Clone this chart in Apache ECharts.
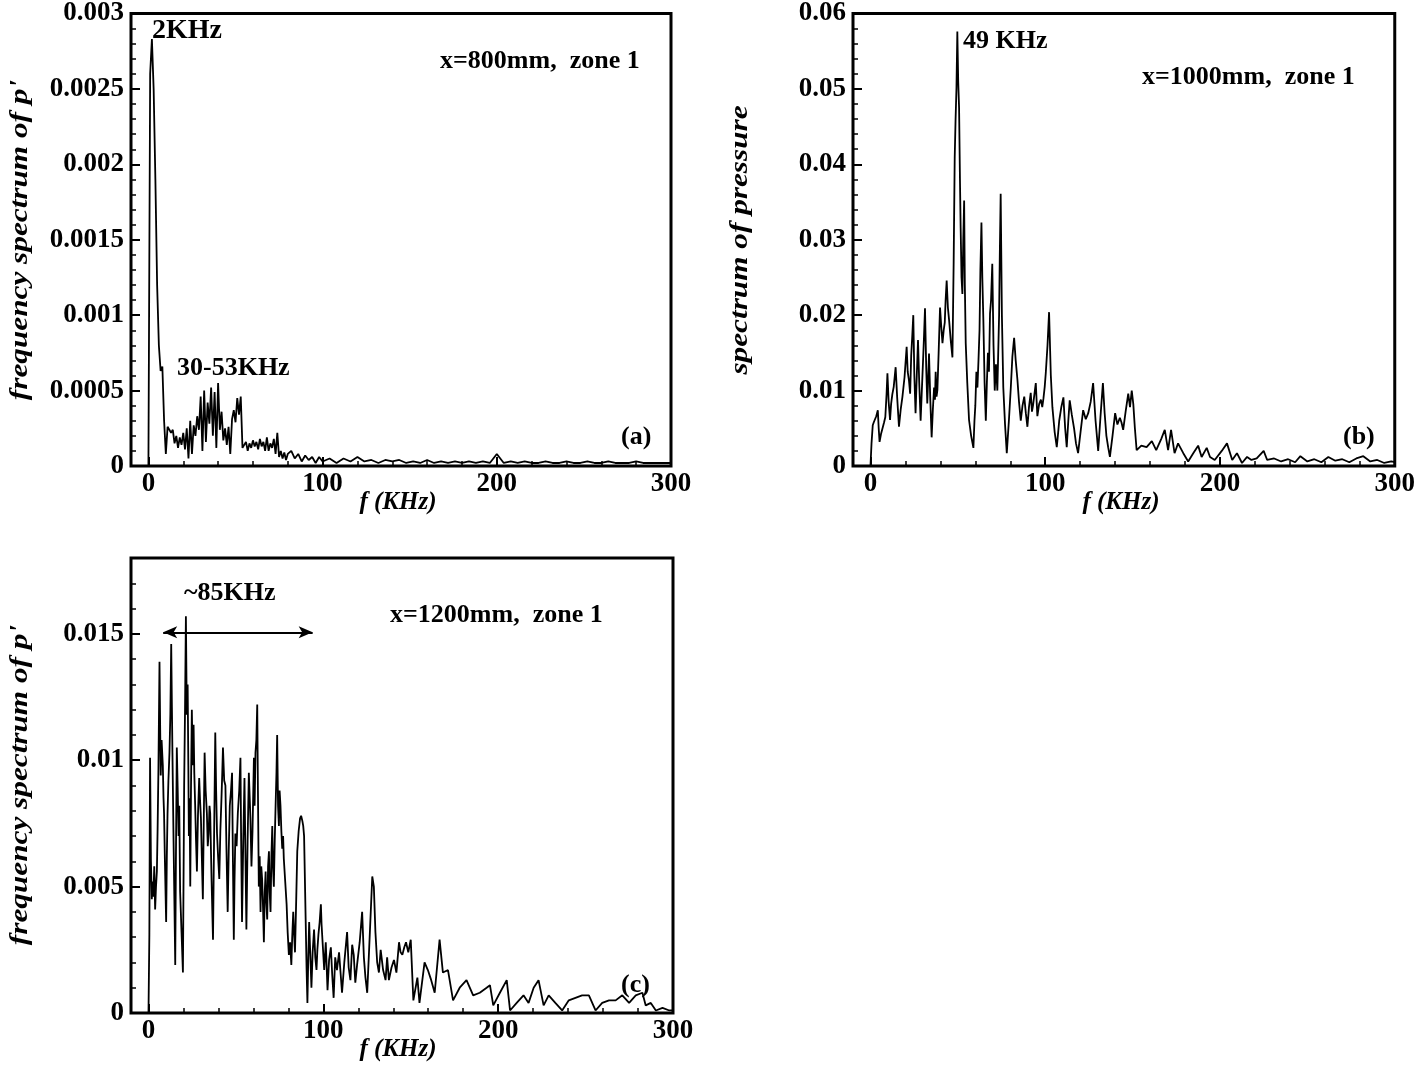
<!DOCTYPE html>
<html>
<head>
<meta charset="utf-8">
<script src="https://cdn.jsdelivr.net/npm/echarts@6/dist/echarts.min.js"></script>
<style>
  html, body { margin: 0; padding: 0; background: #fff; }
  #chart { width: 1418px; height: 1067px; }
</style>
</head>
<body>
<div id="chart"></div>
<script>
// (a) x=800mm
const freqA = [0,1,2,3,4,5,6,7,8,9,10,11,12,13,14,15,16,17,18,19,20,21,22,23,24,25,26,27,28,29,30,
  31,32,33,34,35,36,37,38,39,40,41,42,43,44,45,46,47,48,49,50,51,52,53,54,55,56,57,58,59,60,
  61,62,63,64,65,66,67,68,69,70,71,72,73,74,75,76,77,78,79,80,82,84,86,88,90,92,94,96,98,100,
  104,108,112,116,120,124,128,132,136,140,144,148,152,156,160,164,168,172,176,180,184,188,192,196,
  200,204,208,212,216,220,224,228,232,236,240,244,248,252,256,260,264,268,272,276,280,284,288,292,296,300]
const specA = [0,0.0026,0.00283,0.0025,0.0019,0.0012,0.0008,0.00063,0.00066,0.0003,0.00008,0.00026,0.00025,0.00022,0.00024,0.00015,
  0.0002,0.00012,0.00019,0.00014,0.00022,0.00011,0.00025,0.00005,0.0003,0.00008,0.00027,0.0002,0.00033,0.00024,0.00046,
  0.0001,0.0005,0.00016,0.00042,0.00028,0.00052,0.0002,0.00049,0.00012,0.00055,0.00024,0.00036,0.00017,0.00025,0.00014,
  0.00026,0.00008,0.00031,0.00037,0.00029,0.00045,0.00034,0.00046,0.00012,0.00011,0.00016,0.0001,0.00015,0.00012,0.00017,
  0.00013,0.00016,0.00011,0.00018,0.00013,0.00016,0.0001,0.00019,0.0001,0.00015,0.00012,0.00018,0.00008,0.00022,0.00006,
  0.0001,0.00005,0.00009,0.00004,0.00008,0.0001,0.00005,0.00008,0.00003,0.00007,0.00004,0.00006,0.00002,0.00006,0.00003,
  0.00005,0.00002,0.00005,0.00003,0.00006,0.00003,0.00004,0.00002,0.00004,0.00003,0.00004,0.00002,0.00003,0.00002,0.00004,
  0.00002,0.00003,0.00002,0.00003,0.00002,0.00003,0.00002,0.00003,0.00002,0.00008,0.00002,0.00003,0.00002,0.00003,0.00002,
  0.00002,0.00003,0.00002,0.00002,0.00003,0.00002,0.00002,0.00003,0.00002,0.00002,0.00003,0.00002,0.00002,0.00002,0.00003,
  0.00002,0.00002,0.00002,0.00002,0.00002]

// (b) x=1000mm
const freqB = [0,0.6,1.3,1.9,2.5,3.3,4.2,4.7,5.2,6,7,7.8,8.5,9.2,9.7,10.4,11.2,11.8,12.5,13.3,14.4,15.3,16.3,17.3,18.3,
  19.5,20.7,21.3,22,22.7,23.3,23.9,24.5,25.1,25.8,26.5,27.2,27.9,28.7,29.3,30,30.6,31.2,31.9,32.5,33,33.5,34.2,35,35.7,
  36.4,36.9,37.3,37.8,38.3,39,39.8,40.5,41.2,41.9,42.5,43,43.6,44.3,45,46,46.9,47.6,48.2,48.7,49.2,49.7,50.2,50.7,51.2,
  51.6,52.1,52.6,53.1,53.6,54,54.5,55.4,56.4,57.6,58.9,59.5,60,60.6,61.2,61.8,62.4,62.9,63.5,64,64.6,65.3,66,66.6,67.2,
  67.8,68.4,69,69.7,70.4,71.1,71.8,72.6,73.1,73.6,74,74.5,75.2,76,77,78,79.2,80.3,81.2,82.2,83.1,84.1,85,86,87,88,88.9,
  89.8,90.7,91.7,92.4,93,93.8,94.6,95.1,95.5,96.5,97.5,98.3,99,99.7,100.3,101.3,102.2,103.2,104.1,105.4,106.6,107.3,108,
  109.2,110.4,111.4,112.3,113.2,114,115.2,116.5,117.6,118.8,120.2,121.7,123.2,124.6,126,127.4,128.8,130.3,131.6,133,134,
  135,136,137,138.5,140,141.3,142.7,143.6,144.6,146,147.5,148.5,149.5,150.4,151.3,152.3,155,158,161,163.5,166.4,168.4,
  170.3,172,174,176,179,181.8,184.7,187.5,189.5,192.4,194.3,197,201,204,207,209.7,212.6,215.5,218,221,225,227,231,235,
  239,243,246,250,254,258,262,266,270,274,278,282,286,290,294,298,300]
const specB = [0,0.003,0.0054,0.0058,0.0056,0.0066,0.0074,0.005,0.0032,0.0042,0.0041,0.0058,0.0065,0.0095,0.0123,0.0085,
  0.0061,0.0082,0.0095,0.0105,0.0131,0.009,0.0052,0.0075,0.0092,0.0118,0.0158,0.0125,0.0114,0.0096,0.0146,0.0172,0.02,
  0.012,0.007,0.012,0.0167,0.011,0.006,0.0095,0.0135,0.017,0.0209,0.013,0.0083,0.0115,0.0149,0.009,0.0038,0.0075,0.0104,
  0.0088,0.0125,0.0092,0.0101,0.015,0.021,0.0185,0.0163,0.018,0.019,0.022,0.0246,0.021,0.0193,0.0165,0.0144,0.027,0.0409,
  0.046,0.0501,0.0576,0.051,0.0475,0.038,0.0316,0.025,0.0228,0.03,0.0352,0.024,0.0163,0.011,0.0061,0.004,0.0024,0.006,
  0.008,0.0125,0.0104,0.014,0.018,0.026,0.0323,0.025,0.0193,0.011,0.006,0.011,0.015,0.0125,0.0202,0.022,0.0268,0.016,0.01,
  0.0135,0.01,0.015,0.02,0.028,0.0361,0.02,0.0104,0.0055,0.0017,0.006,0.0104,0.0145,0.017,0.014,0.0114,0.0085,0.006,0.008,
  0.0092,0.007,0.0052,0.0078,0.0097,0.0072,0.008,0.0095,0.011,0.0085,0.0066,0.0082,0.0088,0.0078,0.009,0.0105,0.0123,0.016,
  0.0204,0.012,0.0078,0.0045,0.0025,0.0042,0.006,0.0078,0.0091,0.005,0.0025,0.006,0.0087,0.0068,0.005,0.003,0.0017,0.0045,
  0.0074,0.0062,0.007,0.0085,0.011,0.006,0.002,0.0065,0.011,0.007,0.004,0.0025,0.0012,0.004,0.007,0.0055,0.0064,0.0058,
  0.0048,0.0072,0.0096,0.0078,0.01,0.0082,0.005,0.0021,0.0027,0.0025,0.0033,0.0021,0.0036,0.0048,0.0021,0.0048,0.0017,
  0.003,0.0017,0.0006,0.0017,0.0027,0.0012,0.0024,0.0012,0.0008,0.002,0.003,0.0008,0.0017,0.0004,0.0012,0.0008,0.001,0.002,
  0.0008,0.001,0.0006,0.0009,0.0005,0.0013,0.0006,0.0009,0.0005,0.0012,0.0007,0.0009,0.0005,0.001,0.0013,0.0006,0.0008,
  0.0004,0.0006,0.0005]

// (c) x=1200mm
const freqC = [0,0.5,0.9,1.4,1.9,2.3,2.8,3.3,3.8,4.3,4.8,5.2,5.7,6.3,6.7,7,7.5,8.2,8.6,8.9,9.4,10.1,10.5,10.9,11.4,12,
  12.5,13,13.4,13.7,14.3,14.8,15.3,15.7,16.2,16.7,17.2,17.6,18.1,18.9,19.7,20.1,20.4,20.9,21.4,21.9,22.4,22.8,23.1,23.5,
  23.9,24.3,24.8,25.3,25.8,26.2,26.7,27.2,27.7,28.3,29,29.5,30,30.5,31.1,31.6,32.1,32.7,33.4,33.9,34.4,34.9,35.3,36.1,
  36.9,37.5,38.2,38.7,39.2,39.8,40.5,41.1,41.7,42.2,42.6,43.3,44,44.6,45.3,45.9,46.5,47.2,47.8,48.3,48.8,49.2,49.7,50.4,
  51.1,51.9,52.6,53,53.5,54.2,54.9,55.5,56,56.7,57.4,57.9,58.3,58.9,59.5,60.3,60.7,61.2,61.7,62.2,62.6,63.1,63.6,64.1,
  64.5,65,65.5,66,66.5,67,67.4,67.9,68.4,68.9,69.3,69.8,70.3,70.8,71.2,71.7,72.2,72.7,73.2,73.6,74.1,74.6,75,75.5,76,
  76.5,77,77.4,78.2,79,79.6,80.3,81,81.7,82.2,82.8,83.3,83.8,84.5,85.1,85.9,86.7,87.3,88,88.5,89,89.9,90.4,90.9,91.4,
  91.9,92.5,93.2,93.9,94.7,95.4,96.1,96.6,97.2,97.9,98.6,99,99.5,100.5,101.4,102.4,103.3,104.3,105.1,105.9,106.8,107.8,
  109,110.7,112,113.6,114.5,115.5,116.5,117.4,118.3,119.3,120.8,122.2,123.2,124.1,125.1,126.5,128,128.9,129.8,130.8,
  131.8,132.8,134.2,135.6,136.5,137.5,139,140.4,141.8,143.3,144.2,145.2,146.3,147.3,148.6,150,151.5,153.8,155,157.9,
  159.8,161.7,163.7,166.5,168.4,171.3,174.2,178,181.9,185.7,189.5,193.4,195.3,197.2,201,204.9,206.8,210.6,214.5,217.4,
  220.3,223.1,226,228.9,232.7,236.6,240.4,244.2,248,251.9,255.7,259.5,263.4,267.2,271,274.9,278.7,282.5,284.4,287.3,
  290.2,294,297.9,300]
const specC = [0,0.0031,0.0101,0.006,0.0045,0.0052,0.0046,0.0058,0.0041,0.005,0.0056,0.0072,0.0097,0.0139,0.0112,0.0094,
  0.0108,0.0098,0.0085,0.0079,0.006,0.0036,0.0062,0.0079,0.0092,0.0103,0.0118,0.0146,0.0121,0.0103,0.007,0.0045,0.0019,
  0.0062,0.0105,0.0089,0.007,0.0082,0.0048,0.0032,0.0016,0.0058,0.009,0.012,0.0157,0.0118,0.013,0.0098,0.007,0.0085,
  0.005,0.0088,0.012,0.0098,0.0114,0.0095,0.0082,0.0068,0.0056,0.0078,0.0093,0.0084,0.0077,0.0062,0.0045,0.0075,0.0103,
  0.0088,0.0079,0.0066,0.0071,0.0082,0.0079,0.0052,0.0029,0.0068,0.0111,0.0088,0.0071,0.0062,0.0053,0.0072,0.0084,0.0095,
  0.0105,0.0092,0.009,0.0065,0.004,0.0064,0.0082,0.0088,0.0095,0.006,0.0029,0.0052,0.0071,0.0066,0.0079,0.0088,0.0101,
  0.0068,0.0036,0.0068,0.0093,0.006,0.0033,0.0068,0.0095,0.0085,0.0077,0.0058,0.0072,0.0101,0.0082,0.0103,0.0108,0.0122,
  0.0088,0.005,0.0062,0.004,0.0058,0.0053,0.0042,0.0028,0.0048,0.0056,0.0044,0.0037,0.0058,0.0064,0.0048,0.004,0.0062,
  0.0074,0.0058,0.005,0.0068,0.0082,0.0095,0.011,0.0082,0.0074,0.0088,0.0082,0.0072,0.0065,0.007,0.0061,0.0052,0.0043,
  0.0032,0.0023,0.0028,0.0019,0.003,0.004,0.0031,0.0024,0.0045,0.0064,0.0072,0.0077,0.0078,0.0076,0.0074,0.007,0.0037,
  0.0018,0.0004,0.0022,0.0036,0.0024,0.001,0.0024,0.0033,0.0022,0.0017,0.0025,0.0031,0.0036,0.0043,0.0035,0.0029,0.0017,
  0.0028,0.0009,0.0021,0.0026,0.0015,0.0006,0.0022,0.0017,0.0024,0.0008,0.002,0.0032,0.0018,0.0013,0.0027,0.0023,0.0012,
  0.0019,0.0028,0.004,0.0022,0.0014,0.0008,0.003,0.0054,0.005,0.0032,0.002,0.0016,0.0025,0.0017,0.0013,0.0022,0.0013,
  0.0018,0.0021,0.0016,0.0028,0.0024,0.0023,0.0026,0.0028,0.0024,0.0029,0.0005,0.0014,0.0004,0.002,0.0017,0.0013,0.0008,
  0.0029,0.0016,0.0017,0.0005,0.001,0.0013,0.0007,0.0008,0.001,0.0011,0.0003,0.0008,0.0013,0.0001,0.0004,0.0007,0.0004,
  0.001,0.0013,0.0003,0.0007,0.0004,0.0001,0.0005,0.0006,0.0007,0.0007,0.0001,0.0004,0.0005,0.0005,0.0007,0.0004,0.0007,
  0.0008,0.0003,0.0004,0.0001,0.0002,0.0001,0.0001]

// axis ticks
const xMajor = [0, 100, 200, 300]
const xMinor = [20, 40, 60, 80, 120, 140, 160, 180, 220, 240, 260, 280]

const FONT = '"Liberation Serif", "Times New Roman", serif'
const chart = echarts.init(document.getElementById('chart'))

const grids = [
  { left: 131, top: 12, width: 540, height: 454 },
  { left: 853, top: 12, width: 542, height: 454 },
  { left: 131, top: 558, width: 542, height: 455 }
].map(g => Object.assign(g, { show: true, borderColor: '#000', borderWidth: 3, backgroundColor: '#fff' }))

const yCfg = [
  { max: 0.003, step: 0.0005, minor: 0.0001, showMax: true },
  { max: 0.06, step: 0.01, minor: 0.002, showMax: true },
  { max: 0.018, step: 0.005, minor: 0.001, showMax: false }
]

const labelStyle = { color: '#000', fontSize: 27, fontWeight: 'bold', fontFamily: FONT }

const xAxis = []
const yAxis = []
grids.forEach((g, i) => {
  xAxis.push({
    type: 'value', gridIndex: i, min: -10, max: 300, position: 'bottom',
    axisLine: { show: false, onZero: false },
    axisTick: { inside: true, length: 9, customValues: xMajor, lineStyle: { color: '#000', width: 2 } },
    axisLabel: Object.assign({ customValues: xMajor, margin: 5 }, labelStyle),
    splitLine: { show: false }
  })
  xAxis.push({
    type: 'value', gridIndex: i, min: -10, max: 300, position: 'bottom',
    axisLine: { show: false, onZero: false },
    axisTick: { inside: true, length: 5, customValues: xMinor, lineStyle: { color: '#000', width: 1.5 } },
    axisLabel: { show: false },
    splitLine: { show: false }
  })
  const c = yCfg[i]
  yAxis.push({
    type: 'value', gridIndex: i, min: 0, max: c.max, interval: c.step, position: 'left',
    axisLine: { show: false, onZero: false },
    axisTick: { inside: true, length: 9, lineStyle: { color: '#000', width: 2 } },
    axisLabel: Object.assign({
      margin: 7, showMaxLabel: c.showMax,
      formatter: v => String(+v.toFixed(6))
    }, labelStyle),
    splitLine: { show: false }
  })
  yAxis.push({
    type: 'value', gridIndex: i, min: 0, max: c.max, interval: c.minor, position: 'left',
    axisLine: { show: false, onZero: false },
    axisTick: { inside: true, length: 5, lineStyle: { color: '#000', width: 1.5 } },
    axisLabel: { show: false },
    splitLine: { show: false }
  })
})

const lineStyle = { color: '#000', width: 1.8 }
function spectrum (freq, spec, i, extra) {
  return Object.assign({
    type: 'line', xAxisIndex: i * 2, yAxisIndex: i * 2,
    data: freq.map((f, k) => [f, spec[k]]),
    symbol: 'none', lineStyle: lineStyle, silent: true, animation: false
  }, extra || {})
}

function txt (x, y, text, opt) {
  return {
    type: 'text', x: x, y: y, silent: true,
    style: Object.assign({
      text: text, fill: '#000', font: 'bold 26px ' + FONT,
      textAlign: 'left', textVerticalAlign: 'middle'
    }, opt || {})
  }
}
function ytitle (x, y, text) {
  return {
    type: 'text', x: x, y: y, rotation: Math.PI / 2, scaleX: 1.25, silent: true,
    style: {
      text: text, fill: '#000', font: 'italic bold 25px ' + FONT,
      textAlign: 'center', textVerticalAlign: 'middle'
    }
  }
}

chart.setOption({
  animation: false,
  backgroundColor: '#fff',
  grid: grids,
  xAxis: xAxis,
  yAxis: yAxis,
  series: [
    spectrum(freqA, specA, 0),
    spectrum(freqB, specB, 1),
    spectrum(freqC, specC, 2, {
      markLine: {
        silent: true, symbol: ['arrow', 'arrow'], symbolSize: [9, 14],
        label: { show: false },
        lineStyle: { color: '#000', width: 1.8, type: 'solid' },
        data: [[{ coord: [8.4, 0.01506] }, { coord: [93.9, 0.01506] }]]
      }
    })
  ],
  graphic: [
    txt(152, 31, '2KHz', { font: 'bold 28px ' + FONT }),
    txt(440, 61, 'x=800mm,  zone 1'),
    txt(177, 368, '30-53KHz'),
    txt(621, 437, '(a)'),
    txt(963, 41, '49 KHz'),
    txt(1142, 77, 'x=1000mm,  zone 1'),
    txt(1343, 437, '(b)'),
    txt(184, 593, '~85KHz'),
    txt(390, 615, 'x=1200mm,  zone 1'),
    txt(621, 985, '(c)'),
    txt(398, 503, 'f (KHz)', { textAlign: 'center', font: 'italic bold 25px ' + FONT }),
    txt(1121, 503, 'f (KHz)', { textAlign: 'center', font: 'italic bold 25px ' + FONT }),
    txt(398, 1050, 'f (KHz)', { textAlign: 'center', font: 'italic bold 25px ' + FONT }),
    ytitle(21, 240, "frequency spectrum of p'"),
    ytitle(741, 240, 'spectrum of pressure'),
    ytitle(21, 785, "frequency spectrum of p'")
  ]
})
</script>
</body>
</html>
